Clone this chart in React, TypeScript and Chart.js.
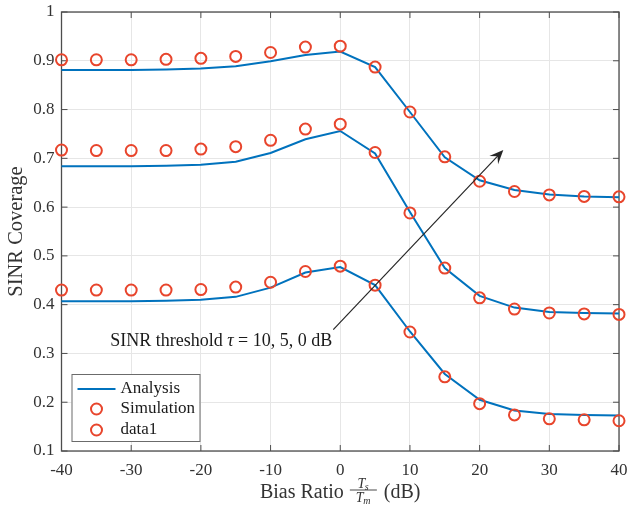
import React, { useEffect, useRef } from "react";
import { Chart, registerables } from "chart.js";

Chart.register(...registerables);

// ---------- data ----------
const biasRatioDb = [-40, -35, -30, -25, -20, -15, -10, -5, 0, 5, 10, 15, 20, 25, 30, 35, 40];

const analysisTau0 = [0.881, 0.881, 0.881, 0.882, 0.884, 0.889, 0.899, 0.912, 0.919, 0.887, 0.795, 0.702, 0.655, 0.635, 0.626, 0.622, 0.620];
const simulationTau0 = [0.902, 0.902, 0.902, 0.903, 0.905, 0.909, 0.917, 0.928, 0.930, 0.887, 0.795, 0.703, 0.653, 0.632, 0.625, 0.622, 0.621];

const analysisTau5 = [0.684, 0.684, 0.684, 0.685, 0.687, 0.693, 0.711, 0.739, 0.756, 0.710, 0.590, 0.475, 0.418, 0.394, 0.385, 0.383, 0.382];
const simulationTau5 = [0.717, 0.716, 0.716, 0.716, 0.719, 0.724, 0.737, 0.760, 0.770, 0.712, 0.588, 0.475, 0.414, 0.391, 0.383, 0.381, 0.380];

const analysisTau10 = [0.407, 0.407, 0.407, 0.408, 0.410, 0.416, 0.435, 0.466, 0.477, 0.440, 0.345, 0.258, 0.205, 0.183, 0.176, 0.174, 0.173];
const simulationTau10 = [0.430, 0.430, 0.430, 0.430, 0.431, 0.436, 0.446, 0.468, 0.479, 0.440, 0.344, 0.252, 0.197, 0.174, 0.166, 0.164, 0.162];

const xTicks = [-40, -30, -20, -10, 0, 10, 20, 30, 40];
const yTicks = [0.1, 0.2, 0.3, 0.4, 0.5, 0.6, 0.7, 0.8, 0.9, 1];

const legendLabels = ["Analysis", "Simulation", "data1"];
const annotationParts = ["SINR threshold ", "\u03C4", " = 10, 5, 0 dB"];
const arrowFrom = { x: -1.0, y: 0.349 };
const arrowTo = { x: 23.4, y: 0.717 };
const yTitle = "SINR Coverage";
const xTitlePre = "Bias Ratio";
const xTitlePost = "(dB)";

// ---------- styles ----------
const BLUE = "#0072BD";
const RED = "#E8452C";
const FONT = "'Liberation Serif', 'DejaVu Serif', serif";
const TEXT = "#333333";
const AXIS = "#4d4d4d";

const toXY = (ys: number[]) => biasRatioDb.map((x, i) => ({ x, y: ys[i] }));

const decorPlugin = {
  id: "decor",
  beforeDatasetsDraw(chart: any) {
    const { ctx, chartArea: a, scales } = chart;
    ctx.save();
    ctx.strokeStyle = AXIS;
    ctx.lineWidth = 1.3;
    ctx.strokeRect(a.left, a.top, a.right - a.left, a.bottom - a.top);
    ctx.lineWidth = 1;
    const tl = 6;
    xTicks.forEach((v) => {
      const px = scales.x.getPixelForValue(v);
      ctx.beginPath();
      ctx.moveTo(px, a.bottom);
      ctx.lineTo(px, a.bottom - tl);
      ctx.moveTo(px, a.top);
      ctx.lineTo(px, a.top + tl);
      ctx.stroke();
    });
    yTicks.forEach((v) => {
      const py = scales.y.getPixelForValue(v);
      ctx.beginPath();
      ctx.moveTo(a.left, py);
      ctx.lineTo(a.left + tl, py);
      ctx.moveTo(a.right, py);
      ctx.lineTo(a.right - tl, py);
      ctx.stroke();
    });
    ctx.restore();
  },
  afterDraw(chart: any) {
    const { ctx, chartArea: a, scales } = chart;
    ctx.save();

    // annotation arrow
    const x0 = scales.x.getPixelForValue(arrowFrom.x);
    const y0 = scales.y.getPixelForValue(arrowFrom.y);
    const x1 = scales.x.getPixelForValue(arrowTo.x);
    const y1 = scales.y.getPixelForValue(arrowTo.y);
    const ang = Math.atan2(y1 - y0, x1 - x0);
    ctx.strokeStyle = "#262626";
    ctx.fillStyle = "#262626";
    ctx.lineWidth = 1.2;
    ctx.beginPath();
    ctx.moveTo(x0, y0);
    ctx.lineTo(x1 - 8 * Math.cos(ang), y1 - 8 * Math.sin(ang));
    ctx.stroke();
    const hl = 14, hw = 6;
    const bx = x1 - hl * Math.cos(ang), by = y1 - hl * Math.sin(ang);
    const nx = -Math.sin(ang), ny = Math.cos(ang);
    const ix = x1 - hl * 0.6 * Math.cos(ang), iy = y1 - hl * 0.6 * Math.sin(ang);
    ctx.beginPath();
    ctx.moveTo(x1, y1);
    ctx.lineTo(bx + nx * hw, by + ny * hw);
    ctx.lineTo(ix, iy);
    ctx.lineTo(bx - nx * hw, by - ny * hw);
    ctx.closePath();
    ctx.fill();

    // annotation text (right-aligned at arrow tail)
    ctx.fillStyle = "#1a1a1a";
    ctx.textBaseline = "middle";
    ctx.textAlign = "left";
    const fonts = [`18px ${FONT}`, `italic 18px ${FONT}`, `18px ${FONT}`];
    const widths = annotationParts.map((t, i) => {
      ctx.font = fonts[i];
      return ctx.measureText(t).width;
    });
    let tx = x0 - 1 - widths.reduce((s, w) => s + w, 0);
    annotationParts.forEach((t, i) => {
      ctx.font = fonts[i];
      ctx.fillText(t, tx, y0 + 12);
      tx += widths[i];
    });

    // legend
    const lx = a.left + 10, ly = 374, lw = 128, lh = 67;
    ctx.fillStyle = "#ffffff";
    ctx.fillRect(lx, ly, lw, lh);
    ctx.strokeStyle = "#6b6b6b";
    ctx.lineWidth = 1;
    ctx.strokeRect(lx + 0.5, ly + 0.5, lw, lh);
    const rows = [ly + 15, ly + 35, ly + 56];
    ctx.strokeStyle = BLUE;
    ctx.lineWidth = 2;
    ctx.beginPath();
    ctx.moveTo(lx + 6, rows[0]);
    ctx.lineTo(lx + 44, rows[0]);
    ctx.stroke();
    ctx.strokeStyle = RED;
    ctx.lineWidth = 2;
    [rows[1], rows[2]].forEach((ry) => {
      ctx.beginPath();
      ctx.arc(lx + 25, ry, 5.5, 0, Math.PI * 2);
      ctx.stroke();
    });
    ctx.fillStyle = "#1a1a1a";
    ctx.font = `17px ${FONT}`;
    ctx.textAlign = "left";
    ctx.textBaseline = "middle";
    legendLabels.forEach((t, i) => ctx.fillText(t, lx + 49, rows[i]));

    // x title with fraction Ts/Tm
    const cx = (a.left + a.right) / 2;
    const base = 498;
    ctx.fillStyle = TEXT;
    ctx.textBaseline = "alphabetic";
    ctx.font = `20px ${FONT}`;
    const preW = ctx.measureText(xTitlePre).width;
    const postW = ctx.measureText(xTitlePost).width;
    const fracW = 27;
    const gap1 = 6, gap2 = 7;
    const total = preW + gap1 + fracW + gap2 + postW;
    let sx = cx - total / 2;
    ctx.textAlign = "left";
    ctx.fillText(xTitlePre, sx, base);
    sx += preW + gap1;
    const fy = base - 8;
    ctx.strokeStyle = TEXT;
    ctx.lineWidth = 0.9;
    ctx.beginPath();
    ctx.moveTo(sx, fy);
    ctx.lineTo(sx + fracW, fy);
    ctx.stroke();
    const drawSub = (main: string, sub: string, baseline: number) => {
      ctx.font = `italic 14px ${FONT}`;
      const mw = ctx.measureText(main).width;
      ctx.font = `italic 10px ${FONT}`;
      const sw = ctx.measureText(sub).width;
      const start = sx + (fracW - mw - sw) / 2;
      ctx.font = `italic 14px ${FONT}`;
      ctx.fillText(main, start, baseline);
      ctx.font = `italic 10px ${FONT}`;
      ctx.fillText(sub, start + mw - 0.5, baseline + 2);
    };
    drawSub("T", "s", fy - 2);
    drawSub("T", "m", fy + 12);
    sx += fracW + gap2;
    ctx.font = `20px ${FONT}`;
    ctx.fillText(xTitlePost, sx, base);

    // y title
    ctx.save();
    ctx.translate(17, (a.top + a.bottom) / 2);
    ctx.rotate(-Math.PI / 2);
    ctx.textAlign = "center";
    ctx.textBaseline = "middle";
    ctx.font = `20.5px ${FONT}`;
    ctx.fillStyle = TEXT;
    ctx.fillText(yTitle, 0, 0);
    ctx.restore();

    ctx.restore();
  },
};

export default function App() {
  const ref = useRef<HTMLCanvasElement | null>(null);
  useEffect(() => {
    if (!ref.current) return;
    const lineDs = (label: string, ys: number[]) => ({
      label,
      data: toXY(ys),
      borderColor: BLUE,
      backgroundColor: BLUE,
      borderWidth: 2,
      pointRadius: 0,
      showLine: true,
      fill: false,
      tension: 0,
      clip: false as any,
      order: 2,
    });
    const simDs = (label: string, ys: number[]) => ({
      label,
      data: toXY(ys),
      borderColor: RED,
      backgroundColor: "rgba(0,0,0,0)",
      pointBorderColor: RED,
      pointBackgroundColor: "rgba(0,0,0,0)",
      pointBorderWidth: 2,
      pointRadius: 5.5,
      showLine: false,
      clip: false as any,
      order: 1,
    });
    const chart = new Chart(ref.current, {
      type: "scatter",
      data: {
        datasets: [
          lineDs("Analysis", analysisTau0),
          lineDs("Analysis τ=5", analysisTau5),
          lineDs("Analysis τ=10", analysisTau10),
          simDs("Simulation", simulationTau0),
          simDs("data1", simulationTau5),
          simDs("data2", simulationTau10),
        ] as any,
      },
      plugins: [decorPlugin],
      options: {
        animation: false,
        responsive: false,
        layout: { padding: { left: 0, top: 12, right: 9, bottom: 0 } },
        plugins: { legend: { display: false }, tooltip: { enabled: false } },
        scales: {
          x: {
            type: "linear",
            min: -40,
            max: 40,
            afterFit: (s: any) => {
              s.height = 58;
              s.paddingLeft = 0;
              s.paddingRight = 0;
            },
            afterBuildTicks: (s: any) => {
              s.ticks = xTicks.map((v) => ({ value: v }));
            },
            ticks: {
              color: TEXT,
              font: { family: FONT, size: 17 },
              padding: 9,
              maxRotation: 0,
              callback: (v: any) => String(v),
            },
            grid: { color: "#e6e6e6", lineWidth: 1, drawTicks: false },
            border: { display: false },
          },
          y: {
            type: "linear",
            min: 0.1,
            max: 1,
            afterFit: (s: any) => {
              s.width = 61.5;
              s.paddingTop = 0;
              s.paddingBottom = 0;
            },
            afterBuildTicks: (s: any) => {
              s.ticks = yTicks.map((v) => ({ value: v }));
            },
            ticks: {
              color: TEXT,
              font: { family: FONT, size: 17 },
              padding: 7,
              callback: (v: any) => {
                const r = Math.round(v * 10) / 10;
                return r === 1 ? "1" : r.toFixed(1);
              },
            },
            grid: { color: "#e6e6e6", lineWidth: 1, drawTicks: false },
            border: { display: false },
          },
        },
      },
    });
    return () => chart.destroy();
  }, []);
  return (
    <div style={{ position: "fixed", left: 0, top: 0, width: 628, height: 509, background: "#fff" }}>
      <canvas ref={ref} width={628} height={509} style={{ display: "block" }} />
    </div>
  );
}
